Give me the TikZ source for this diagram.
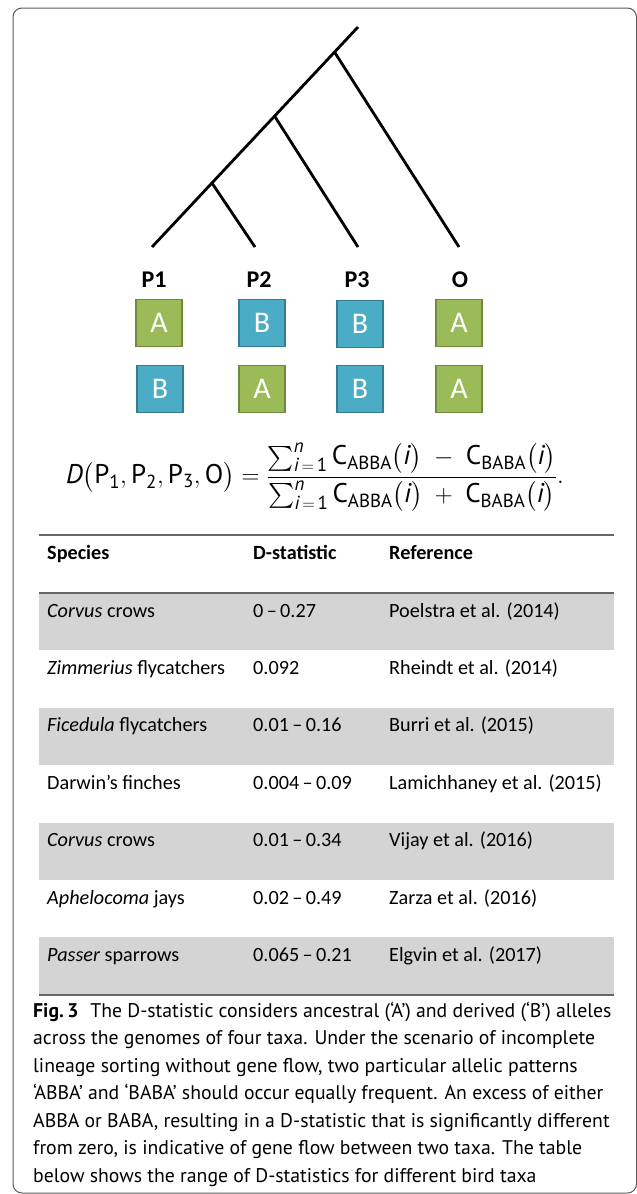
\documentclass[tikz,border=0pt]{standalone}
\usepackage{amsmath}
\usepackage{fontspec}
\setmainfont{Carlito}
\newfontfamily\capfont{PT Sans}
\usetikzlibrary{calc}

\definecolor{ancgreen}{HTML}{9BBB59}
\definecolor{ancgreenline}{HTML}{71893F}
\definecolor{derblue}{HTML}{4BACC6}
\definecolor{derblueline}{HTML}{357D91}
\definecolor{rowshade}{HTML}{D4D4D4}
\definecolor{rulegray}{HTML}{666666}
\definecolor{framegray}{HTML}{5A5A5A}

% upright and italic formula letters in the caption face
\newcommand\fup[1]{\text{\capfont #1}}
\newcommand\fit[1]{\text{\capfont\itshape #1}}

\begin{document}
\begin{tikzpicture}[x=1pt,y=-1pt,
  branch/.style={line width=2.8pt},
  taxon/.style={font=\fontsize{24}{28}\selectfont\bfseries},
  allele/.style={minimum width=46pt, minimum height=47pt, inner sep=0pt,
    line width=1.4pt, text=white, font=\fontsize{30}{32}\selectfont},
  anc/.style={allele, fill=ancgreen, draw=ancgreenline},
  der/.style={allele, fill=derblue, draw=derblueline},
  cell/.style={anchor=base west, inner sep=0pt, font=\fontsize{20.2}{24}\selectfont},
  headcell/.style={anchor=base west, inner sep=0pt, font=\fontsize{20.2}{24}\selectfont\bfseries},
  capline/.style={anchor=base west, inner sep=0pt, font=\capfont\fontsize{19.75}{24}\selectfont}
]
\useasboundingbox (0,0) rectangle (637,1194);

% outer frame
\draw[framegray, line width=1pt, rounded corners=9pt] (13,8) rectangle (636.5,1193);

% ---- tree ----
\coordinate (root) at (358,27);
\coordinate (leafP1) at (152,247);
\coordinate (leafP2) at (255,247);
\coordinate (leafP3) at (358,247);
\coordinate (leafO) at (459,247);
\coordinate (nO) at ($(root)!0.114!(leafP1)$);
\coordinate (nP3) at ($(root)!0.405!(leafP1)$);
\coordinate (nP2) at ($(root)!0.709!(leafP1)$);
\draw[branch] (root) -- (leafP1);
\draw[branch] (nP2) -- (leafP2);
\draw[branch] (nP3) -- (leafP3);
\draw[branch] (nO) -- (leafO);

% ---- taxa and alleles ----
\node[taxon] (tP1) at (154,280) {P1};
\node[taxon] (tP2) at (259,280) {P2};
\node[taxon] (tP3) at (357,280) {P3};
\node[taxon] (tO)  at (460,280) {O};

\node[anc] (a1) at (159,323) {A};
\node[der] (a2) at (262,323) {B};
\node[der] (a3) at (360,324) {B};
\node[anc] (a4) at (459,323) {A};
\node[der] (b1) at (160,389) {B};
\node[anc] (b2) at (262,389) {A};
\node[der] (b3) at (360,389) {B};
\node[anc] (b4) at (459,389) {A};

% ---- formula ----
\node[font=\fontsize{27}{31}\selectfont, inner sep=0pt] (dform) at (315,477)
 {$\fit{D}\bigl(\fup{P}_{\fup{1}}, \fup{P}_{\fup{2}}, \fup{P}_{\fup{3}}, \fup{O}\bigr) =
   \dfrac{\sum_{\fit{i}\,=\,\fup{1}}^{\fit{n}} \fup{C}_{\fup{ABBA}}\bigl(\fit{i}\bigr) \;-\; \fup{C}_{\fup{BABA}}\bigl(\fit{i}\bigr)}
         {\sum_{\fit{i}\,=\,\fup{1}}^{\fit{n}} \fup{C}_{\fup{ABBA}}\bigl(\fit{i}\bigr) \;+\; \fup{C}_{\fup{BABA}}\bigl(\fit{i}\bigr)}.$};

% ---- table ----
\foreach \r in {1,3,5,7} {
  \fill[rowshade] (39,{593+57.4*(\r-1)}) rectangle (614,{593+57.4*\r});
}
\draw[rulegray, line width=1.2pt] (39,535) -- (614,535);
\draw[rulegray, line width=2.4pt] (39,593) -- (614,593);
\draw[rulegray, line width=2.4pt] (39,995) -- (614,995);

\node[headcell] (hS) at (47,559) {Species};
\node[headcell] (hD) at (253,559) {D-statistic};
\node[headcell] (hR) at (389,559) {Reference};

\node[cell] (s1) at (47,617) {\textit{Corvus} crows};
\node[cell] (d1) at (253,617) {0\,–\,0.27};
\node[cell] (r1) at (389,617) {Poelstra et al. (2014)};

\node[cell] (s2) at (47,674.4) {\textit{Zimmerius} flycatchers};
\node[cell] (d2) at (253,674.4) {0.092};
\node[cell] (r2) at (389,674.4) {Rheindt et al. (2014)};

\node[cell] (s3) at (47,731.8) {\textit{Ficedula} flycatchers};
\node[cell] (d3) at (253,731.8) {0.01\,–\,0.16};
\node[cell] (r3) at (389,731.8) {Burri et al. (2015)};

\node[cell] (s4) at (47,789.2) {Darwin’s finches};
\node[cell] (d4) at (253,789.2) {0.004\,–\,0.09};
\node[cell] (r4) at (389,789.2) {Lamichhaney et al. (2015)};

\node[cell] (s5) at (47,846.6) {\textit{Corvus} crows};
\node[cell] (d5) at (253,846.6) {0.01\,–\,0.34};
\node[cell] (r5) at (389,846.6) {Vijay et al. (2016)};

\node[cell] (s6) at (47,904) {\textit{Aphelocoma} jays};
\node[cell] (d6) at (253,904) {0.02\,–\,0.49};
\node[cell] (r6) at (389,904) {Zarza et al. (2016)};

\node[cell] (s7) at (47,961.4) {\textit{Passer} sparrows};
\node[cell] (d7) at (253,961.4) {0.065\,–\,0.21};
\node[cell] (r7) at (389,961.4) {Elgvin et al. (2017)};

% ---- caption ----
\node[capline] (c1) at (33,1017) {\textbf{Fig.\,3}\hspace{0.6em}The D-statistic considers ancestral (‘A’) and derived (‘B’) alleles};
\node[capline] (c2) at (33,1044.5) {across the genomes of four taxa. Under the scenario of incomplete};
\node[capline] (c3) at (33,1072) {lineage sorting without gene flow, two particular allelic patterns};
\node[capline] (c4) at (33,1099.5) {‘ABBA’ and ‘BABA’ should occur equally frequent. An excess of either};
\node[capline] (c5) at (33,1127) {ABBA or BABA, resulting in a D-statistic that is significantly different};
\node[capline] (c6) at (33,1154.5) {from zero, is indicative of gene flow between two taxa. The table};
\node[capline] (c7) at (33,1182) {below shows the range of D-statistics for different bird taxa};
\end{tikzpicture}
\end{document}
